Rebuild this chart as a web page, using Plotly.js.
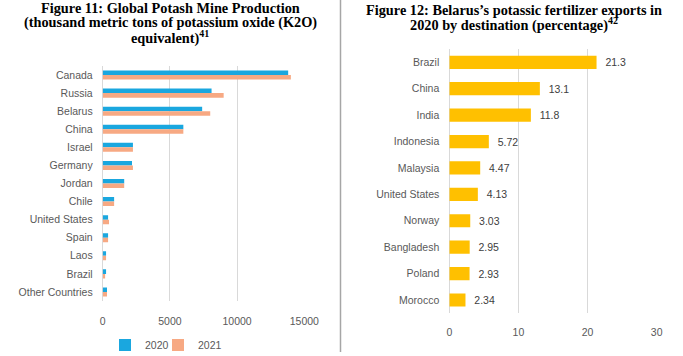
<!DOCTYPE html>
<html>
<head>
<meta charset="utf-8">
<script src="https://cdn.plot.ly/plotly-3.0.1.min.js"></script>
<style>html,body{margin:0;padding:0;background:#fff}#chart{width:683px;height:356px}</style>
</head>
<body>
<div id="chart"></div>
<script>
// Figure 11 data (thousand metric tons K2O)
const potashCountries = ["Canada","Russia","Belarus","China","Israel","Germany","Jordan","Chile","United States","Spain","Laos","Brazil","Other Countries"];
const prod2020 = [13800, 8100, 7400, 6000, 2250, 2180, 1600, 850, 400, 400, 250, 250, 320];
const prod2021 = [14000, 9000, 8000, 6000, 2250, 2250, 1600, 850, 470, 400, 250, 180, 320];
const seriesNames = ["2020", "2021"];

// Figure 12 data (percentage)
const exportDest = ["Brazil","China","India","Indonesia","Malaysia","United States","Norway","Bangladesh","Poland","Morocco"];
const exportPct = [21.3, 13.1, 11.8, 5.72, 4.47, 4.13, 3.03, 2.95, 2.93, 2.34];
const exportLabels = ["21.3","13.1","11.8","5.72","4.47","4.13","3.03","2.95","2.93","2.34"];

const W = 683, H = 356;
const px = x => x / W;
const py = y => (H - y) / H;

const tickFont = {family: "Liberation Sans, Arial, sans-serif", size: 10.5, color: "#595959"};
const titleFont = {family: "Liberation Serif, Times New Roman, serif", size: 14.3, color: "#000"};

const traces = [
  {type: "bar", orientation: "h", name: seriesNames[0], y: potashCountries, x: prod2020,
   marker: {color: "#1AA7DF"}, xaxis: "x", yaxis: "y", hoverinfo: "none", legend: "legend"},
  {type: "bar", orientation: "h", name: seriesNames[1], y: potashCountries, x: prod2021,
   marker: {color: "#F7A983"}, xaxis: "x", yaxis: "y", hoverinfo: "none", legend: "legend2"},
  {type: "bar", orientation: "h", name: "exports", y: exportDest, x: exportPct,
   text: exportLabels, texttemplate: "\u00a0\u00a0%{text}", textposition: "outside", cliponaxis: false,
   textfont: {family: "Liberation Sans, Arial, sans-serif", size: 10.5, color: "#404040"},
   marker: {color: "#FFC000"}, xaxis: "x2", yaxis: "y2", showlegend: false, hoverinfo: "none"}
];

function titleLine(text, x, y) {
  return {text: text, x: px(x), y: py(y), xref: "paper", yref: "paper",
    xanchor: "center", yanchor: "middle", showarrow: false, font: titleFont};
}

const legendBase = {orientation: "h", xanchor: "left", yanchor: "middle", y: py(345),
  font: tickFont, itemwidth: 30, bgcolor: "rgba(0,0,0,0)"};

const layout = {
  width: W, height: H,
  margin: {l: 0, r: 0, t: 0, b: 0, autoexpand: false},
  paper_bgcolor: "#fff", plot_bgcolor: "rgba(0,0,0,0)",
  barmode: "group", bargap: 0.5, bargroupgap: 0,
  xaxis: {domain: [px(102.7), px(304.3)], range: [0, 15000], tickvals: [0, 5000, 10000, 15000],
    ticktext: ["0","5000","10000","15000"], showgrid: true, gridcolor: "#d9d9d9", gridwidth: 1,
    zeroline: true, zerolinecolor: "#d9d9d9", zerolinewidth: 1, showline: false,
    tickfont: tickFont, ticklabelstandoff: 12, anchor: "y", automargin: false},
  yaxis: {domain: [py(301), py(66)], autorange: "reversed", type: "category",
    tickfont: tickFont, showgrid: false, zeroline: false, showline: false, ticks: "", ticklabelstandoff: 9,
    anchor: "x", automargin: false},
  xaxis2: {domain: [px(449.3), px(656.7)], range: [0, 30], tickvals: [0, 10, 20, 30],
    showgrid: true, gridcolor: "#d9d9d9", gridwidth: 1, zeroline: true, zerolinecolor: "#d9d9d9",
    tickfont: tickFont, ticklabelstandoff: 11, anchor: "y2", automargin: false},
  yaxis2: {domain: [py(313.2), py(49.1)], autorange: "reversed", type: "category",
    tickfont: tickFont, showgrid: false, zeroline: false, showline: false, ticks: "", ticklabelstandoff: 9,
    anchor: "x2", automargin: false},
  showlegend: true,
  legend: Object.assign({}, legendBase, {x: px(105)}),
  legend2: Object.assign({}, legendBase, {x: px(158)}),
  shapes: [
    {type: "line", xref: "paper", yref: "paper", x0: px(340.5), x1: px(340.5), y0: py(0), y1: py(352),
     line: {color: "#a6a6a6", width: 1.5}}
  ],
  annotations: [
    titleLine("<b>Figure 11: Global Potash Mine Production</b>", 170, 8.5),
    titleLine("<b>(thousand metric tons of potassium oxide (K2O)</b>", 170, 22.5),
    titleLine("<b>equivalent)<sup>41</sup></b>", 170, 37.5),
    titleLine("<b>Figure 12: Belarus\u2019s potassic fertilizer exports in</b>", 514, 10),
    titleLine("<b>2020 by destination (percentage)<sup>42</sup></b>", 514, 24.5)
  ]
};

Plotly.newPlot("chart", traces, layout, {displayModeBar: false, staticPlot: true});
</script>
</body>
</html>
